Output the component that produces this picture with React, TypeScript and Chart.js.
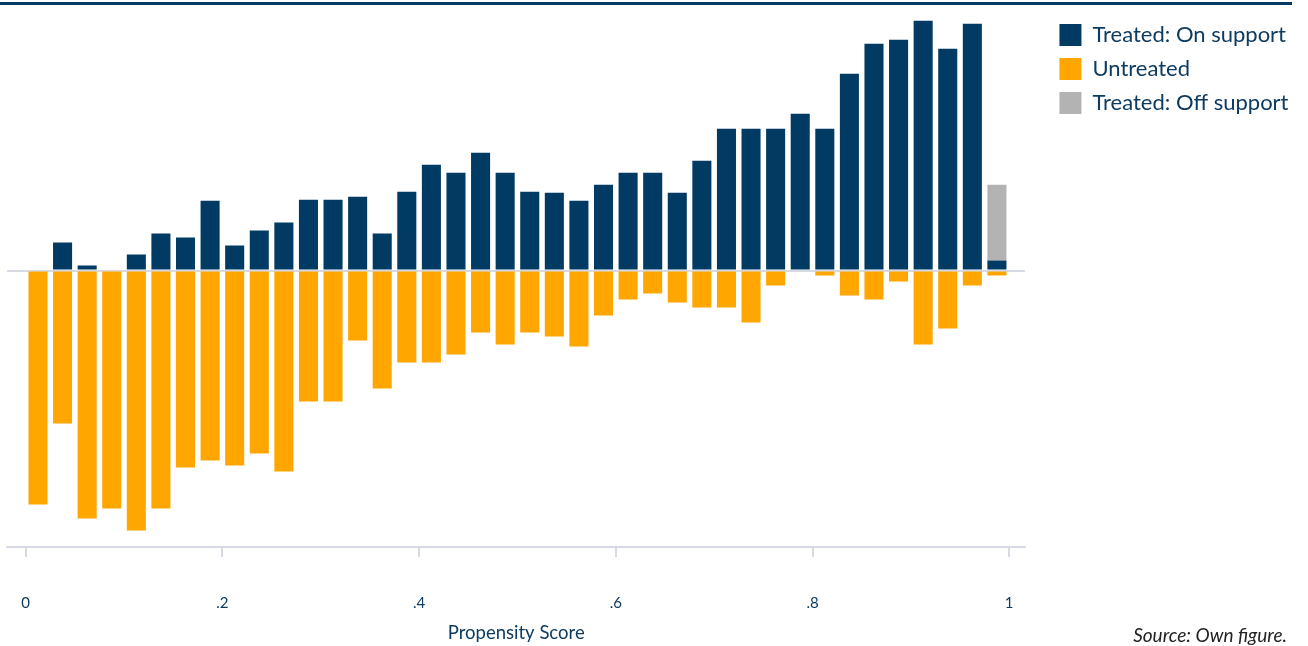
import React, { useEffect, useRef } from "react";
import { Chart, registerables } from "chart.js";

Chart.register(...registerables);

// Propensity-score bins (bin centres, width .025)
const binCenters = [
  0.0125, 0.0375, 0.0625, 0.0875, 0.1125, 0.1375, 0.1625, 0.1875, 0.2125, 0.2375,
  0.2625, 0.2875, 0.3125, 0.3375, 0.3625, 0.3875, 0.4125, 0.4375, 0.4625, 0.4875,
  0.5125, 0.5375, 0.5625, 0.5875, 0.6125, 0.6375, 0.6625, 0.6875, 0.7125, 0.7375,
  0.7625, 0.7875, 0.8125, 0.8375, 0.8625, 0.8875, 0.9125, 0.9375, 0.9625, 0.9875,
];

const treatedOnSupport = [
  1, 28, 5, 1, 16, 37, 33, 70, 25, 40,
  48, 71, 71, 74, 37, 79, 106, 98, 118, 98,
  79, 78, 70, 86, 98, 98, 78, 110, 142, 142,
  142, 157, 142, 197, 227, 231, 250, 222, 247, 10,
];

const untreated = [
  -234, -153, -248, -238, -260, -238, -197, -190, -195, -183,
  -201, -131, -131, -70, -118, -92, -92, -84, -62, -74,
  -62, -66, -76, -45, -29, -23, -32, -37, -37, -52,
  -15, 0, -5, -25, -29, -11, -74, -58, -15, -5,
];

const treatedOffSupport = [
  0, 0, 0, 0, 0, 0, 0, 0, 0, 0,
  0, 0, 0, 0, 0, 0, 0, 0, 0, 0,
  0, 0, 0, 0, 0, 0, 0, 0, 0, 0,
  0, 0, 0, 0, 0, 0, 0, 0, 0, 76,
];

const seriesNames = ["Treated: On support", "Untreated", "Treated: Off support"];
const tickValues = [0, 0.2, 0.4, 0.6, 0.8, 1];
const tickLabels = ["0", ".2", ".4", ".6", ".8", "1"];
const xTitle = "Propensity Score";
const sourceNote = "Source: Own figure.";

const NAVY = "#013b63";
const ORANGE = "#ffa600";
const GREY = "#b3b3b3";
const AXIS = "#d6dae4";
const TEXT = "#0e3c61";
const FONT = "Lato";

export default function App() {
  const canvasRef = useRef<HTMLCanvasElement | null>(null);

  useEffect(() => {
    if (!canvasRef.current) return;
    const toPoints = (vals: number[]) => binCenters.map((x, i) => ({ x, y: vals[i] }));
    const barStyle = { barPercentage: 0.775, categoryPercentage: 1.0, borderWidth: 0 };

    const chart = new Chart(canvasRef.current, {
      type: "bar",
      data: {
        datasets: [
          { label: seriesNames[0], data: toPoints(treatedOnSupport), backgroundColor: NAVY, ...barStyle },
          { label: seriesNames[1], data: toPoints(untreated), backgroundColor: ORANGE, ...barStyle },
          { label: seriesNames[2], data: toPoints(treatedOffSupport), backgroundColor: GREY, ...barStyle },
        ],
      },
      options: {
        responsive: false,
        animation: false,
        devicePixelRatio: 1,
        layout: { autoPadding: false, padding: { left: 7, top: 12, right: 9.5, bottom: 2 } },
        plugins: {
          legend: {
            position: "right",
            align: "start",
            labels: {
              boxWidth: 22,
              boxHeight: 22,
              padding: 12,
              color: TEXT,
              font: { family: FONT, size: 22 },
            },
          },
          tooltip: { enabled: false },
        },
        scales: {
          x: {
            type: "linear",
            stacked: true,
            offset: false,
            min: -0.019,
            max: 1.0165,
            afterBuildTicks: (scale: any) => {
              scale.ticks = tickValues.map((v) => ({ value: v }));
            },
            afterFit: (scale: any) => {
              scale.height = 97;
              scale.paddingLeft = 0;
              scale.paddingRight = 0;
            },
            ticks: {
              autoSkip: false,
              maxRotation: 0,
              padding: 37,
              color: TEXT,
              font: { family: FONT, size: 15 },
              callback: (v: any) => {
                const i = tickValues.findIndex((t) => Math.abs(t - Number(v)) < 1e-9);
                return i >= 0 ? tickLabels[i] : "";
              },
            },
            grid: {
              offset: false,
              drawOnChartArea: false,
              drawTicks: true,
              tickLength: 10,
              color: AXIS,
              lineWidth: 2,
            },
            border: { display: true, color: AXIS, width: 2 },
            title: {
              display: true,
              text: xTitle,
              color: TEXT,
              font: { family: FONT, size: 18.5 },
              padding: { top: 0, bottom: 0 },
            },
          },
          y: {
            stacked: true,
            position: "right",
            min: -276.5,
            max: 258.7,
            afterBuildTicks: (scale: any) => {
              scale.ticks = [{ value: 0 }];
            },
            afterFit: (scale: any) => {
              scale.width = 22;
            },
            ticks: { display: false },
            grid: { color: AXIS, lineWidth: 2, drawTicks: false },
            border: { display: false },
          },
        },
      },
    });
    return () => chart.destroy();
  }, []);

  return (
    <div style={{ position: "absolute", left: 0, top: 0, width: 1308, height: 646, background: "#fff" }}>
      <div style={{ position: "absolute", left: 0, top: 2, width: 1292, height: 3, background: NAVY }} />
      <canvas ref={canvasRef} width={1308} height={646} style={{ display: "block", width: 1308, height: 646 }} />
      <div
        style={{
          position: "absolute",
          right: 21,
          top: 623,
          fontFamily: FONT,
          fontStyle: "italic",
          fontSize: 19,
          lineHeight: "24px",
          color: "#222",
          whiteSpace: "nowrap",
        }}
      >
        {sourceNote}
      </div>
    </div>
  );
}
